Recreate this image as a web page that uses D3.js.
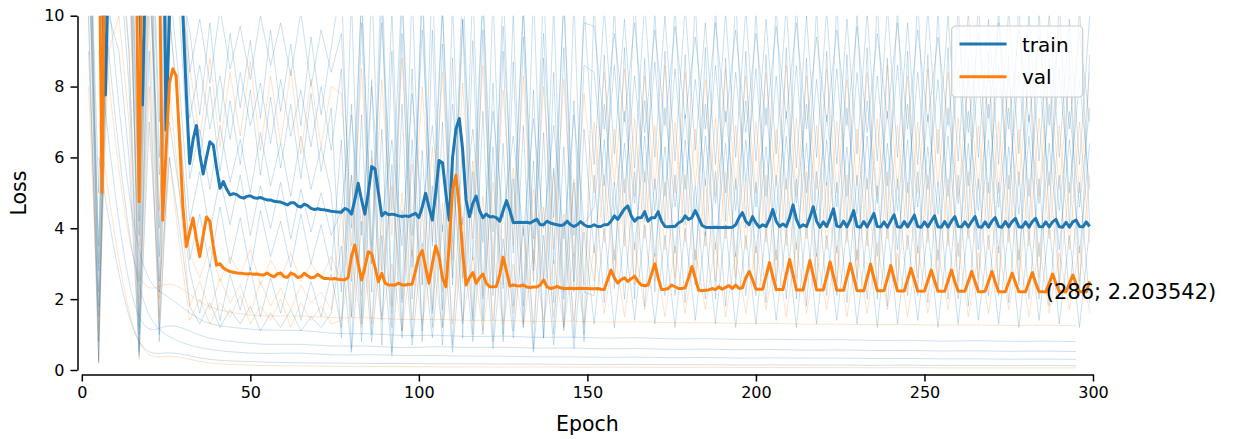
<!DOCTYPE html>
<html><head><meta charset="utf-8">
<script src="https://cdn.jsdelivr.net/npm/d3@7/dist/d3.min.js"></script>
<style>html,body{margin:0;padding:0;background:#fff;}svg{display:block;font-family:"DejaVu Sans",sans-serif;}</style>
</head><body><svg id="c" width="1233" height="439"></svg>
<script>
// ---------- data ----------
const xTicks = [0, 50, 100, 150, 200, 250, 300];
const yTicks = [0, 2, 4, 6, 8, 10];
const firstEpoch = 5;
// train loss, epochs 5..299
const trainLoss = [
14,11,7.76,12,15,15,15,15,15,15,15,12,11,7.48,12,15,15,15,15,15,6.77,10,12,12,11,10,7.8,5.83,6.5,6.9,
6.1,5.53,6.0,6.44,6.35,5.7,5.13,5.32,5.1,4.94,4.98,4.95,4.88,4.85,4.9,4.92,4.86,4.85,4.87,4.83,4.8,4.8,4.76,4.75,4.74,4.70,4.66,4.72,4.72,4.63,
4.6,4.68,4.64,4.56,4.53,4.55,4.53,4.52,4.5,4.48,4.47,4.46,4.45,4.56,4.52,4.4,4.8,5.27,4.8,4.4,5.0,5.74,5.68,5.0,4.35,4.45,4.38,4.4,4.38,4.35,
4.33,4.35,4.33,4.38,4.42,4.3,4.6,4.99,4.6,4.23,5.0,5.91,5.85,5.0,4.23,6.0,6.8,7.1,6.2,4.8,4.33,4.7,4.91,4.5,4.3,4.4,4.32,4.33,4.3,4.2,
4.5,4.78,4.5,4.16,4.16,4.17,4.16,4.17,4.15,4.2,4.25,4.1,4.1,4.2,4.15,4.12,4.1,4.08,4.1,4.2,4.1,4.05,4.1,4.19,4.1,4.05,4.05,4.1,4.05,4.05,
4.1,4.1,4.2,4.35,4.25,4.4,4.55,4.63,4.35,4.2,4.3,4.3,4.47,4.2,4.3,4.3,4.47,4.2,4.05,4.04,4.05,4.05,4.15,4.2,4.35,4.25,4.3,4.5,4.3,4.08,
4.03,4.02,4.02,4.03,4.02,4.02,4.03,4.02,4.03,4.1,4.3,4.44,4.2,4.1,4.33,4.15,4.03,4.1,4.05,4.25,4.53,4.2,4.05,4.12,4.05,4.3,4.66,4.25,4.03,4.1,
4.05,4.3,4.61,4.2,4.03,4.18,4.05,4.28,4.55,4.06,4.04,4.2,4.04,4.24,4.5,4.05,4.03,4.19,4.04,4.22,4.42,4.05,4.04,4.18,4.03,4.21,4.38,4.04,4.03,4.19,
4.04,4.2,4.37,4.05,4.03,4.18,4.04,4.2,4.35,4.04,4.03,4.19,4.03,4.2,4.33,4.05,4.04,4.18,4.04,4.19,4.33,4.04,4.03,4.18,4.03,4.2,4.3,4.05,4.03,4.19,
4.04,4.19,4.28,4.04,4.03,4.18,4.03,4.19,4.28,4.05,4.04,4.18,4.04,4.18,4.25,4.04,4.03,4.17,4.03,4.18,4.23,4.05,4.04,4.18,4.05
];
// val loss, epochs 5..299
const valLoss = [
14,5.0,14,15,15,15,15,15,15,15,15,13,4.75,13,15,15,15,15,12,4.23,6.2,8.1,8.5,8.3,6.5,4.6,3.48,3.9,4.29,3.7,
3.2,3.8,4.32,4.2,3.5,2.96,3.0,2.88,2.82,2.78,2.76,2.74,2.73,2.72,2.71,2.72,2.70,2.71,2.69,2.68,2.74,2.67,2.63,2.71,2.74,2.63,2.62,2.73,2.70,2.61,
2.63,2.73,2.66,2.60,2.62,2.70,2.63,2.58,2.58,2.57,2.58,2.56,2.55,2.55,2.6,3.2,3.53,3.0,2.54,2.9,3.34,3.28,2.9,2.49,2.73,2.45,2.4,2.4,2.4,2.45,
2.4,2.4,2.42,2.42,2.8,3.2,3.37,2.9,2.45,3.0,3.5,3.2,2.6,2.35,3.5,5.08,5.5,4.6,3.3,2.4,2.6,2.75,2.45,2.6,2.71,2.45,2.35,2.35,2.36,2.7,
3.18,2.8,2.37,2.4,2.38,2.37,2.4,2.34,2.33,2.34,2.34,2.4,2.54,2.35,2.3,2.32,2.36,2.32,2.3,2.3,2.31,2.3,2.3,2.31,2.3,2.3,2.29,2.29,2.3,2.28,
2.27,2.55,2.82,2.6,2.45,2.55,2.6,2.5,2.58,2.65,2.5,2.4,2.38,2.4,2.7,3.0,2.6,2.27,2.28,2.3,2.4,2.35,2.3,2.3,2.32,2.6,2.92,2.6,2.25,2.24,
2.25,2.26,2.3,2.27,2.35,2.28,2.33,2.38,2.3,2.4,2.3,2.32,2.6,2.78,2.55,2.28,2.28,2.28,2.65,3.03,2.65,2.27,2.27,2.27,2.7,3.12,2.7,2.26,2.26,2.26,
2.68,3.09,2.68,2.26,2.26,2.26,2.65,3.05,2.65,2.25,2.25,2.25,2.63,3.01,2.62,2.24,2.24,2.24,2.6,2.99,2.6,2.24,2.24,2.24,2.58,2.95,2.58,2.23,2.23,2.23,
2.55,2.87,2.55,2.23,2.22,2.23,2.52,2.82,2.52,2.22,2.22,2.22,2.52,2.82,2.5,2.22,2.22,2.22,2.5,2.78,2.5,2.21,2.21,2.22,2.5,2.78,2.48,2.21,2.21,2.21,
2.47,2.73,2.47,2.21,2.21,2.21,2.48,2.75,2.46,2.21,2.21,2.203542,2.45,2.71,2.45,2.21,2.21,2.21,2.44,2.68,2.44,2.21,2.21,2.21,2.5
];
const annotEpoch = 286, annotValue = 2.203542;

// faint per-run curves, sampled every 3 epochs from epoch 2
const bgStart = 2, bgStep = 3;
const bgTrain = [
[13,0.3,14,15,13,1.2,14,2.5,13,11, 9.6,7.2,9.8,7.0,9.5,7.4,9.3,7.1,9.6,7.3,9.2,6.9,9.4,7.2,9.1, 11,2.5,10.8,3,11.5,1.8,10.5,2.9,11,3.5,10.2,2.6,11.2,3.1,10.6,2.4,10.9,3.3,10.4,2.8,11,3,10.7,2.5,10.3, 5.8,10.2,6.1,9.9,5.7,10.4,6,10,5.9,10.3,6.2,9.8,5.8,10.1,6,10.2,5.9,9.9,6.1,10.3,5.7,10,6,10.2,5.8,9.9,6.1,10.1,5.9,10.3,6,9.8,5.8,10.2,6.1,10,5.9,10.1,6,9.9,5.8,10.2,6.1,10,5.9,10.1,6,9.9,5.8,10],
[14,1.8,13,15,14,0.6,12,4,14,12, 7.1,8.6,6.8,8.3,6.5,8.4,6.9,8.1,6.4,8.2,6.6,7.9,6.3,8,6.2, 8.5,1.5,9.8,2.2,10.5,1.2,9.5,2,10.8,1.6,9.2,2.4,9.9,1.4,9.6,2.1,9,1.8,9.4,2.5,8.8,1.9,9.1,2.2,8.6, 8.4,5.2,8.6,5,8.3,5.3,8.7,4.9,8.5,5.1,8.2,5.2,8.6,5,8.4,5.3,8.5,4.9,8.3,5.1,8.6,5,8.2,5.2,8.5,4.9,8.4,5.1,8.3,5.2,8.6,5,8.4,5.1,8.2,4.9,8.5,5.2,8.3,5,8.6,5.1,8.4,4.9,8.3,5.2,8.5,5,8.2,5.1],
[12,3.5,15,14,15,5,13,1,12,10, 5.4,6.8,5.1,6.9,5.3,6.5,5,6.7,5.2,6.4,4.9,6.6,5.1,6.3,5, 0.9,7.5,1.3,8.2,0.7,9,1.1,8.5,0.8,9.6,1.2,8.8,0.9,9.3,1.4,8.1,1,8.7,1.3,7.9,0.9,8.4,1.2,7.6,1, 10.5,4.1,10.3,3.9,10.6,4.2,10.2,4,10.4,4.1,10.5,3.8,10.3,4.2,10.6,4,10.2,4.1,10.4,3.9,10.5,4.2,10.3,4,10.4,4.1,10.2,3.9,10.5,4.2,10.3,4,10.6,4.1,10.2,3.9,10.4,4.2,10.5,4,10.3,4.1,10.4,3.9,10.2,4.2,10.5,4,10.3,4.1],
[15,0.8,13,15,12,2.5,15,3.2,11,8, 4.2,5.6,3.9,5.4,4.1,5.5,3.8,5.2,4,5.3,3.7,5.1,3.9,5,3.8, 4.5,7.2,3.8,8,4.2,6.5,3.5,7.8,4.4,6.9,3.9,7.5,4.1,6.8,3.6,7.3,4.3,6.6,3.8,7.1,4,6.9,3.7,7.2,4.1, 4.6,7.5,4.4,7.3,4.7,7.6,4.5,7.4,4.6,7.2,4.4,7.5,4.7,7.3,4.5,7.6,4.6,7.4,4.4,7.3,4.7,7.5,4.5,7.2,4.6,7.4,4.4,7.6,4.7,7.3,4.5,7.5,4.6,7.2,4.4,7.4,4.7,7.3,4.5,7.5,4.6,7.4,4.4,7.2,4.7,7.5,4.5,7.3,4.6,7.4],
[12,2.2,14,13,9,0.4,11,5.5,10,7, 3.1,4.4,2.9,4.6,3,4.3,2.8,4.5,3.2,4.2,2.9,4.4,3,4.1,2.8, 6.5,0.6,7.2,1,6.8,0.5,7.5,0.9,6.2,1.2,7,0.7,6.6,1,7.3,0.8,6.4,1.1,6.9,0.6,6.7,1,6.3,0.9,6.8, 3.3,6.5,3.1,6.4,3.4,6.6,3.2,6.3,3.3,6.5,3.1,6.6,3.4,6.4,3.2,6.5,3.3,6.3,3.1,6.6,3.4,6.4,3.2,6.5,3.3,6.3,3.1,6.6,3.2,6.4,3.4,6.5,3.3,6.3,3.1,6.6,3.2,6.4,3.4,6.5,3.3,6.3,3.1,6.6,3.2,6.4,3.4,6.5,3.3,6.4],
[14,5,15,15,14,3.8,15,6,14,12, 7.8,5.9,8,5.6,7.6,5.8,7.9,5.5,7.7,5.7,7.5,5.4,7.8,5.6,7.4, 2.2,10.5,1.5,11,2.8,10.2,1.9,10.8,2.4,11.3,1.7,10.4,2.6,10.9,2,10.6,2.3,10.1,1.8,10.7,2.5,10.3,2,10.5,2.2, 2.1,8.9,2.3,9.1,2,8.8,2.2,9,2.1,8.9,2.4,9.1,2,8.8,2.3,9,2.1,8.9,2.2,9.1,2,8.8,2.3,9,2.1,8.9,2.4,9.1,2,8.8,2.2,9,2.1,8.9,2.3,9.1,2,8.8,2.2,9,2.1,8.9,2.4,9.1,2,8.8,2.3,9,2.1,8.9],
[10,0.2,12,12,8,1,9,0.8,7,5, 2.8,1.6,3,1.4,2.7,1.7,2.9,1.5,2.6,1.6,2.8,1.4,2.5,1.5,2.7, 1.2,5.5,0.8,6.2,1.4,5.8,0.9,6.5,1.1,5.2,0.7,6,1.3,5.6,1,6.3,0.8,5.4,1.2,5.9,0.9,5.7,1.1,5.3,0.8, 5.5,1.9,5.3,2,5.6,1.8,5.4,2.1,5.5,1.9,5.2,2,5.6,1.8,5.4,2.1,5.3,1.9,5.5,2,5.4,1.8,5.6,2.1,5.3,1.9,5.5,2,5.2,1.8,5.4,2.1,5.6,1.9,5.3,2,5.5,1.8,5.4,2.1,5.3,1.9,5.6,2,5.4,1.8,5.5,2.1,5.3,1.9],
[9,1.5,10,9,6,0.5,7,2.2,6,4, 1.8,1.3,1.9,1.2,1.7,1.3,1.8,1.1,1.6,1.2,1.7,1.1,1.5,1.2,1.6, 3.5,0.5,4.2,0.8,3.8,0.4,4.5,0.7,3.6,0.9,4.1,0.5,3.9,0.8,4.3,0.6,3.7,0.9,4,0.5,3.8,0.7,4.2,0.6,3.9, 1.3,4,1.2,3.9,1.4,4.1,1.3,3.8,1.2,4,1.4,3.9,1.3,4.1,1.2,3.8,1.3,4,1.4,3.9,1.2,4.1,1.3,3.8,1.4,4,1.3,3.9,1.2,4.1,1.3,3.8,1.4,4,1.2,3.9,1.3,4.1,1.4,3.8,1.3,4,1.2,3.9,1.4,4.1,1.3,3.8,1.2,4],
[15,2.8,15,15,15,4.2,15,7,15,13, 8.4,9.9,8.1,10.2,8.5,9.7,8.2,10,8.6,9.8,8.3,10.1,8,9.6,8.4, 9.5,4,10.5,3.5,9.8,4.5,10.8,3.8,9.6,4.2,10.3,3.6,9.9,4.4,10.6,3.9,9.7,4.1,10.2,3.7,9.5,4.3,10.4,3.8,9.8, 9.7,6.8,9.5,7,9.8,6.7,9.6,6.9,9.7,7.1,9.4,6.8,9.8,7,9.6,6.7,9.5,6.9,9.7,7.1,9.8,6.8,9.4,7,9.6,6.9,9.7,6.7,9.5,7.1,9.8,6.8,9.6,7,9.4,6.9,9.7,6.7,9.5,7.1,9.8,6.8,9.6,7,9.4,6.9,9.7,6.8,9.5,7]
];
const bgVal = [
[14,3,15,15,14,2,15,1.5,13,11, 8.6,6.5,8.8,6.3,8.4,6.6,8.7,6.2,8.3,6.4,8.5,6.1,8.2,6.3,8, 7.8,3.5,8.5,3,8.2,3.8,8.8,3.2,8,3.6,8.4,3.1,8.1,3.7,8.6,3.3,7.9,3.5,8.3,3,8,3.4,8.2,3.2,7.8, 5,8.4,5.2,8.5,4.9,8.3,5.1,8.6,5,8.4,5.2,8.2,4.9,8.5,5.1,8.3,5,8.4,5.2,8.6,4.9,8.3,5.1,8.5,5,8.2,5.2,8.4,4.9,8.6,5.1,8.3,5,8.5,5.2,8.4,4.9,8.2,5.1,8.5,5,8.3,5.2,8.4,4.9,8.6,5.1,8.3,5,8.4],
[12,0.8,13,14,11,3.5,12,4.5,10,7, 3.3,2.6,3.5,2.5,3.2,2.7,3.4,2.4,3.1,2.6,3.3,2.5,3,2.6,3.2, 2.5,5.5,2.1,6,2.6,5.2,2,5.8,2.4,6.3,2.2,5.5,2.5,5.9,2.1,5.3,2.4,5.7,2.3,5.1,2.5,5.6,2.2,5.4,2.4, 7,3.6,6.8,3.5,7.1,3.7,6.9,3.4,7,3.6,6.8,3.5,7.1,3.7,6.9,3.4,7,3.6,6.8,3.5,7.1,3.7,6.9,3.4,7,3.6,6.8,3.5,7.1,3.7,6.9,3.4,7,3.6,6.8,3.5,7.1,3.7,6.9,3.4,7,3.6,6.8,3.5,7.1,3.7,6.9,3.4,7,3.6],
[10,0.2,11,12,9,1.5,10,2,8,5, 1.8,2.5,1.7,2.6,1.9,2.4,1.6,2.5,1.8,2.3,1.7,2.4,1.9,2.2,1.7, 4.5,1.5,4.8,1.3,4.2,1.6,5,1.4,4.4,1.7,4.7,1.3,4.3,1.5,4.9,1.4,4.5,1.6,4.1,1.3,4.6,1.5,4.4,1.4,4.2, 2.5,5.5,2.6,5.4,2.4,5.6,2.5,5.3,2.6,5.5,2.4,5.4,2.5,5.6,2.6,5.3,2.4,5.5,2.5,5.4,2.6,5.6,2.4,5.3,2.5,5.5,2.6,5.4,2.4,5.6,2.5,5.3,2.6,5.5,2.4,5.4,2.5,5.6,2.6,5.3,2.4,5.5,2.5,5.4,2.6,5.6,2.4,5.3,2.5,5.5],
[8,1.2,9,10,7,0.3,8,1.2,6,3.5, 1.4,2,1.3,1.9,1.5,2.1,1.3,1.8,1.4,2,1.2,1.9,1.4,1.8,1.3, 1.4,3.2,1.2,3.5,1.5,3,1.1,3.4,1.3,3.1,1.2,3.6,1.4,3.2,1.1,3.3,1.3,3,1.2,3.4,1.4,3.1,1.2,3.3,1.3, 3.5,1.6,3.4,1.5,3.6,1.7,3.3,1.5,3.5,1.6,3.4,1.7,3.6,1.5,3.3,1.6,3.5,1.7,3.4,1.5,3.6,1.6,3.3,1.7,3.5,1.5,3.4,1.6,3.6,1.7,3.3,1.5,3.5,1.6,3.4,1.7,3.6,1.5,3.3,1.6,3.5,1.7,3.4,1.5,3.6,1.6,3.3,1.7,3.5,1.6]
];
// smooth low runs, sampled every 10 epochs from epoch 5
const smStart = 5, smStep = 10;
const bgTrainSmooth = [
[12,1.8,0.9,0.6,0.5,0.45,0.5,0.4,0.45,0.4,0.42,0.38,0.4,0.36,0.38,0.35,0.37,0.34,0.36,0.33,0.35,0.33,0.34,0.32,0.33,0.31,0.32,0.3,0.31,0.3],
[9,0.5,1.5,0.9,0.8,0.7,0.75,0.65,0.7,0.6,0.68,0.62,0.66,0.6,0.64,0.58,0.62,0.57,0.6,0.56,0.59,0.55,0.58,0.54,0.56,0.53,0.55,0.52,0.54,0.52],
[14,2.5,2.2,1.3,1.2,1.1,1.15,1.0,1.05,0.95,1.0,0.92,0.98,0.9,0.95,0.88,0.93,0.86,0.9,0.85,0.88,0.84,0.87,0.82,0.85,0.8,0.84,0.8,0.82,0.8],
[6,0.2,0.6,0.3,0.25,0.22,0.2,0.2,0.18,0.19,0.17,0.18,0.16,0.17,0.16,0.15,0.16,0.15,0.15,0.14,0.15,0.14,0.14,0.13,0.14,0.13,0.13,0.12,0.13,0.12]
];
const bgValSmooth = [
[7,0.1,0.5,0.2,0.15,0.12,0.12,0.1,0.1,0.1,0.09,0.09,0.08,0.09,0.08,0.08,0.08,0.07,0.08,0.07,0.07,0.07,0.07,0.06,0.07,0.06,0.06,0.06,0.06,0.06],
[11,1.5,2.8,1.8,1.6,1.5,1.55,1.45,1.5,1.4,1.45,1.38,1.42,1.35,1.4,1.33,1.38,1.32,1.35,1.3,1.33,1.28,1.3,1.27,1.29,1.26,1.28,1.25,1.27,1.25]
];
const legendLabels = ["train", "val"];

// ---------- drawing ----------
const C_TRAIN = "#1f77b4", C_VAL = "#ff7f0e";
const svg = d3.select("#c");
const x = d3.scaleLinear().domain([0, 300]).range([81.8, 1093]);
const y = d3.scaleLinear().domain([0, 10]).range([370, 15.7]);

svg.append("defs").append("clipPath").attr("id", "clip")
  .append("rect").attr("x", x(0)).attr("y", y(10)).attr("width", x(300) - x(0)).attr("height", y(0) - y(10));

const plot = svg.append("g").attr("clip-path", "url(#clip)");
const toPts = (arr, start, step) => arr.map((v, i) => [start + i * step, v]);
const lineG = d3.line().x(d => x(d[0])).y(d => y(d[1]));
const lineS = d3.line().x(d => x(d[0])).y(d => y(d[1])).curve(d3.curveBasis);

bgVal.forEach(s => plot.append("path").attr("d", lineG(toPts(s, bgStart, bgStep)))
  .attr("fill", "none").attr("stroke", C_VAL).attr("stroke-opacity", 0.22).attr("stroke-width", 1));
bgValSmooth.forEach(s => plot.append("path").attr("d", lineS(toPts(s, smStart, smStep)))
  .attr("fill", "none").attr("stroke", C_VAL).attr("stroke-opacity", 0.22).attr("stroke-width", 1));
bgTrain.forEach(s => plot.append("path").attr("d", lineG(toPts(s, bgStart, bgStep)))
  .attr("fill", "none").attr("stroke", C_TRAIN).attr("stroke-opacity", 0.23).attr("stroke-width", 1));
bgTrainSmooth.forEach(s => plot.append("path").attr("d", lineS(toPts(s, smStart, smStep)))
  .attr("fill", "none").attr("stroke", C_TRAIN).attr("stroke-opacity", 0.22).attr("stroke-width", 1));

plot.append("path").attr("d", lineG(toPts(trainLoss, firstEpoch, 1)))
  .attr("fill", "none").attr("stroke", C_TRAIN).attr("stroke-width", 3).attr("stroke-linejoin", "round");
plot.append("path").attr("d", lineG(toPts(valLoss, firstEpoch, 1)))
  .attr("fill", "none").attr("stroke", C_VAL).attr("stroke-width", 3).attr("stroke-linejoin", "round");

// axes
const yAx = svg.append("g").attr("transform", "translate(77.5,0)")
  .call(d3.axisLeft(y).tickValues(yTicks).tickFormat(d3.format("d")).tickSize(7).tickSizeOuter(0).tickPadding(6));
const xAx = svg.append("g").attr("transform", "translate(0,374.5)")
  .call(d3.axisBottom(x).tickValues(xTicks).tickFormat(d3.format("d")).tickSize(7).tickSizeOuter(0).tickPadding(5));
[yAx, xAx].forEach(a => {
  a.selectAll("path.domain").attr("stroke", "#000").attr("stroke-width", 1.5);
  a.selectAll(".tick line").attr("stroke", "#000").attr("stroke-width", 1.5);
  a.selectAll(".tick text").attr("fill", "#000").style("font-size", "16px").style("font-family", "DejaVu Sans");
});

svg.append("text").attr("x", x(150)).attr("y", 431).attr("text-anchor", "middle")
  .style("font-size", "20.5px").attr("fill", "#000").text("Epoch");
svg.append("text").attr("transform", "translate(26,193) rotate(-90)").attr("text-anchor", "middle")
  .style("font-size", "20.5px").attr("fill", "#000").text("Loss");

// annotation
svg.append("text").attr("x", x(annotEpoch)).attr("y", y(annotValue) + 7.5)
  .style("font-size", "21px").attr("fill", "#000").text(`(${annotEpoch}; ${annotValue})`);

// legend
const lg = svg.append("g");
lg.append("rect").attr("x", 951.7).attr("y", 26).attr("width", 131).attr("height", 71).attr("rx", 4)
  .attr("fill", "#fff").attr("fill-opacity", 0.8).attr("stroke", "#cccccc").attr("stroke-width", 1.2);
legendLabels.forEach((lab, i) => {
  const yy = 44 + i * 32.7;
  lg.append("line").attr("x1", 959.5).attr("x2", 1006.5).attr("y1", yy).attr("y2", yy)
    .attr("stroke", i === 0 ? C_TRAIN : C_VAL).attr("stroke-width", 3);
  lg.append("text").attr("x", 1022).attr("y", yy + 7.5).style("font-size", "20px").attr("fill", "#000").text(lab);
});
</script></body></html>
